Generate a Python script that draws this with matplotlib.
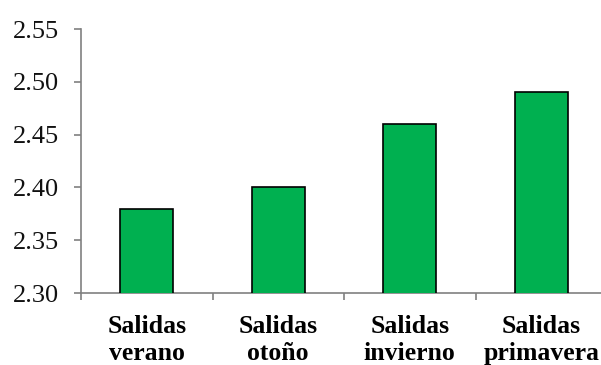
import numpy as np
import matplotlib as mpl
mpl.use('Agg')
import matplotlib.pyplot as plt

categories = ['Salidas\nverano', 'Salidas\notoño', 'Salidas\ninvierno', 'Salidas\nprimavera']
values = [2.38, 2.40, 2.46, 2.49]
yticks = [2.30, 2.35, 2.40, 2.45, 2.50, 2.55]

plt.rcParams['font.family'] = ['Liberation Serif', 'DejaVu Serif']

fig = plt.figure(figsize=(6.01, 3.65), dpi=100)
ax = fig.add_axes([81 / 601, 1 - 293 / 365, 526 / 601, 264 / 365])

x = np.arange(len(categories))
ax.bar(x, values, width=0.4, bottom=0, color='#00B050', edgecolor='black', linewidth=1.2, zorder=3)

ax.set_ylim(2.30, 2.55)
ax.set_xlim(-0.5, len(categories) - 0.5)
ax.set_yticks(yticks)
ax.set_yticklabels(['{:.2f}'.format(v) for v in yticks], fontsize=19, color='#111111')

# boundaries get the tick marks, the centres get the labels
ax.set_xticks(np.arange(len(categories) + 1) - 0.5)
ax.set_xticklabels([])
ax.set_xticks(x, minor=True)
ax.set_xticklabels(categories, minor=True, fontsize=18.5, fontweight='bold', linespacing=1.22)
ax.tick_params(axis='x', which='minor', length=0, pad=16)
ax.tick_params(axis='x', which='major', length=5, width=1.2, color='#808080')
ax.tick_params(axis='y', length=5, width=1.2, color='#808080', pad=11)

for side in ['top', 'right']:
    ax.spines[side].set_visible(False)
for side in ['left', 'bottom']:
    ax.spines[side].set_color('#808080')
    ax.spines[side].set_linewidth(1.2)

fig.savefig('out.png', dpi=100)
